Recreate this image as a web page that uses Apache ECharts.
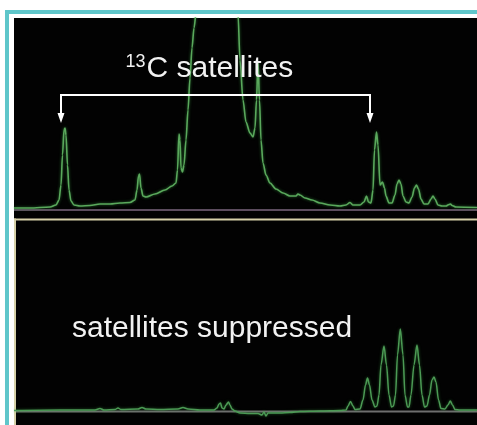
<!DOCTYPE html>
<html>
<head>
<meta charset="utf-8">
<script src="https://cdn.jsdelivr.net/npm/echarts@6/dist/echarts.min.js"></script>
<style>
html,body{margin:0;padding:0;background:#fff;overflow:hidden;}
#chart{width:477px;height:425px;}
</style>
</head>
<body>
<div id="chart"></div>
<script>
// Top spectrum (with 13C satellites): position along spectrum, intensity above baseline
var topX = [0,16,36,42,45,47,48.5,50,51,52,53.5,55,57,60,66,76,86,96,106,116,121,123,124.5,125.5,127,129,132,141,151,158,162,163.5,165,166,167,168.5,170,172,174,176,178,180,182,186,192,198,203,208,214,220,224,226,229,232,236,239,241,242.5,244,245.5,247,249,252,256,262,269,276,282,284,286,291,298,306,316,326,332,336,339,346,350,352.5,354.5,357,359,360.5,362.5,364,366,368.5,370.5,372,375,378,381,383,385,387,389,392,395,398,400.5,402.5,404.5,407,410,414,417,419,421,424,428,432,435,436.5,438,442,463];
var topY = [0,0,1,3,8,23,53,78,80,73,43,18,7,3,2,2.5,4,4,5,5.5,8,18,32,34,20,12,11,14,18,22,25,38,74,68,40,36,43,68,98,130,160,180,194,328,708,1408,1708,1408,708,328,194,148,108,86,75,71,80,108,146,108,68,45,33,25,19,15,12,12,14,13,10,8,5,3,2,3,5.5,3,3,6,12,6,5,18,58,76,63,23,26,20,12,5,5,13,24,28,24,12,6,5,11,20,23,19,9,4,4,9,12,9,3,2,2,3.5,4,2.5,1,0.5];
// Bottom spectrum (satellites suppressed)
var bottomX = [0,46,81,86,90,101,104,107,124,128,132,146,164,169,174,186,200,203,205,206.5,208,210,212,214.5,216,218,221,226,236,244,248,250,252,254,258,266,276,286,306,326,332,334,336.5,339,341,346,349,351.5,353.5,355.5,358,361,363,365,367,370,372.5,375,377.5,379.5,381.5,383.5,386.3,389,391,393.5,395,397,400,403,405.5,408,410.5,413,415.5,418,420,422,424.5,427,431,434,436.3,438.5,441,446,463];
var bottomY = [-0.5,0,0,1.5,0,0.5,2,0.5,1,2.5,1,0.5,1,2.5,1,0,0,2,6,7,2,1,5,8,5,1,-1,-3,-3.5,-3.5,-5,-2,-6,-3,-3,-3,-2.5,-1.5,-1,-0.5,0,4,8.5,4,0.5,1,10,25,32,25,10,3,4,15,45,64,45,15,3,4,15,55,81,55,15,3,3,15,45,65,45,15,3,4,15,30,33,28,10,1.5,1,5,9,5,0.5,0,0];
var labelTop = ['13', 'C satellites'];
var labelBottom = 'satellites suppressed';

function pairs(xs, ys){ var o=[]; for(var i=0;i<xs.length;i++){o.push([xs[i], ys[i]]);} return o; }

var chart = echarts.init(document.getElementById('chart'), null, {renderer:'canvas'});
var font = '"Liberation Sans", Arial, Helvetica, sans-serif';
chart.setOption({
  animation:false,
  backgroundColor:'#ffffff',
  grid:[
    {left:14, top:18, width:463, height:198},
    {left:14, top:221, width:463, height:204}
  ],
  xAxis:[
    {gridIndex:0, type:'value', min:0, max:463, show:false},
    {gridIndex:1, type:'value', min:0, max:463, show:false}
  ],
  yAxis:[
    {gridIndex:0, type:'value', min:-8, max:190, show:false},
    {gridIndex:1, type:'value', min:-15, max:189, show:false}
  ],
  graphic:[
    // frame
    {type:'rect', z:0, shape:{x:5, y:10, width:472, height:4}, style:{fill:'#5fc6ca'}},
    {type:'rect', z:0, shape:{x:5, y:10, width:4, height:415}, style:{fill:'#5fc6ca'}},
    {type:'rect', z:0, shape:{x:14, y:18, width:463, height:200}, style:{fill:'#020202'}},
    {type:'rect', z:0, shape:{x:14, y:218, width:463, height:207}, style:{fill:'#020202'}},
    {type:'rect', z:0, shape:{x:14, y:218.5, width:463, height:2}, style:{fill:'#d6d0a8'}},
    {type:'rect', z:0, shape:{x:14, y:218.5, width:2, height:207}, style:{fill:'#d6d0a8'}},
    // baselines
    {type:'line', z:1, shape:{x1:14, y1:210, x2:477, y2:210}, style:{stroke:'#5c4c5e', lineWidth:2}},
    {type:'line', z:1, shape:{x1:16, y1:411.5, x2:477, y2:411.5}, style:{stroke:'#6e6e6e', lineWidth:2}},
    // bracket annotation
    {type:'polyline', z:10, shape:{points:[[61,115],[61,95],[370,95],[370,115]]}, style:{stroke:'#ffffff', lineWidth:2, fill:null}},
    {type:'polygon', z:10, shape:{points:[[57.5,113],[64.5,113],[61,123]]}, style:{fill:'#ffffff'}},
    {type:'polygon', z:10, shape:{points:[[366.5,113],[373.5,113],[370,123]]}, style:{fill:'#ffffff'}},
    {type:'text', z:10, style:{x:125.5, y:61.8, text:labelTop[0], font:'18px '+font, fill:'#f2f2f2', verticalAlign:'middle', align:'left'}},
    {type:'text', z:10, style:{x:146.5, y:68.6, text:labelTop[1], font:'30px '+font, fill:'#f2f2f2', verticalAlign:'middle', align:'left'}},
    {type:'text', z:10, style:{x:72, y:328.6, text:labelBottom, font:'30px '+font, fill:'#f2f2f2', verticalAlign:'middle', align:'left'}}
  ],
  series:[
    {type:'line', xAxisIndex:0, yAxisIndex:0, data:pairs(topX, topY), showSymbol:false, smooth:0.3, smoothMonotone:'x',
      lineStyle:{color:'#5aa85c', width:1.6, shadowBlur:3, shadowColor:'rgba(70,190,80,0.6)'}, z:2},
    {type:'line', xAxisIndex:1, yAxisIndex:1, data:pairs(bottomX, bottomY), showSymbol:false, smooth:0.3, smoothMonotone:'x',
      lineStyle:{color:'#4c9a55', width:1.5, shadowBlur:3, shadowColor:'rgba(70,190,80,0.5)'}, z:2}
  ]
});
</script>
</body>
</html>
